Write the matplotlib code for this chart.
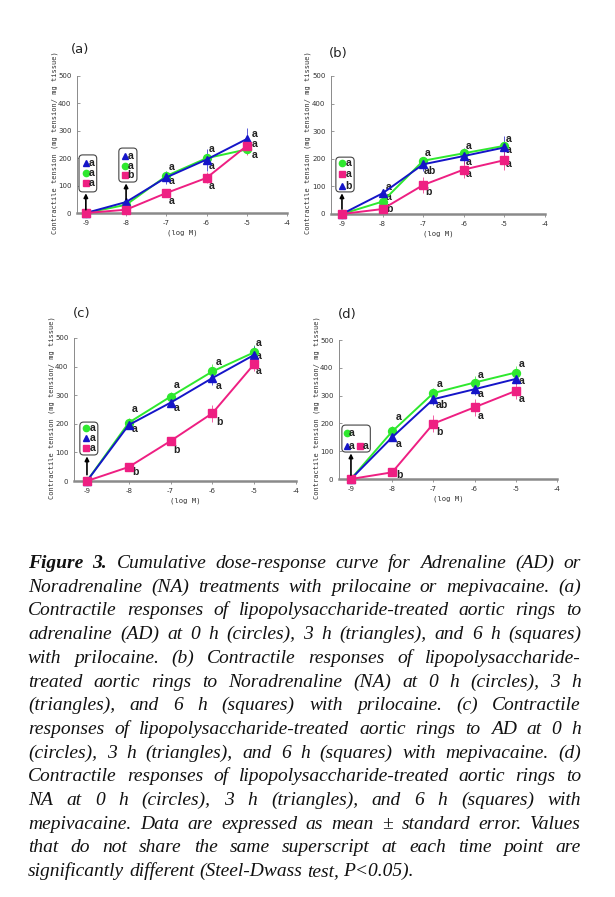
import matplotlib
matplotlib.use("Agg")
import matplotlib.pyplot as plt
from matplotlib.patches import FancyBboxPatch
import numpy as np

W, H = 615, 897
fig = plt.figure(figsize=(W / 100, H / 100), dpi=100)

# ---------------- data ----------------
log_conc = [-9, -8, -7, -6, -5]
x_ticks = [-9, -8, -7, -6, -5, -4]
y_ticks = [0, 100, 200, 300, 400, 500]

a_green = [0, 30, 135, 200, 232]
a_blue = [0, 40, 130, 195, 270]
a_pink = [0, 12, 73, 128, 245]
a_green_err = [0, 5, 15, 15, 15]
a_blue_err = [0, 8, 25, 40, 40]
a_pink_err = [0, 5, 10, 20, 35]

b_green = [0, 45, 193, 220, 247]
b_blue = [0, 75, 180, 210, 241]
b_pink = [0, 18, 105, 161, 195]
b_green_err = [0, 10, 15, 15, 15]
b_blue_err = [0, 15, 25, 30, 40]
b_pink_err = [0, 5, 30, 30, 35]

c_green = [0, 204, 295, 383, 450]
c_blue = [0, 196, 274, 360, 441]
c_pink = [0, 49, 140, 237, 409]
c_green_err = [0, 15, 15, 25, 25]
c_blue_err = [0, 15, 15, 25, 30]
c_pink_err = [0, 5, 15, 30, 25]

d_green = [0, 171, 309, 347, 383]
d_blue = [0, 150, 287, 323, 360]
d_pink = [0, 24, 199, 258, 317]
d_green_err = [0, 20, 20, 25, 25]
d_blue_err = [0, 15, 20, 20, 20]
d_pink_err = [0, 5, 30, 30, 30]

# superscript letters: (x, y, text)
a_letters = [(-6.86, 168, "a"), (-6.86, 117, "a"), (-6.86, 44, "a"),
             (-5.87, 233, "a"), (-5.87, 172, "a"), (-5.87, 99, "a"),
             (-4.80, 290, "a"), (-4.80, 252, "a"), (-4.80, 213, "a")]
b_letters = [(-7.84, 98, "a"), (-7.84, 62, "a"), (-7.84, 18, "b"),
             (-6.88, 221, "a"), (-6.83, 156, "ab"), (-6.88, 80, "b"),
             (-5.87, 246, "a"), (-5.87, 188, "a"), (-5.87, 145, "a"),
             (-4.89, 270, "a"), (-4.89, 233, "a"), (-4.89, 181, "a")]
c_letters = [(-7.85, 252, "a"), (-7.85, 182, "a"), (-7.85, 31, "b"),
             (-6.85, 336, "a"), (-6.85, 255, "a"), (-6.85, 108, "b"),
             (-5.84, 416, "a"), (-5.84, 332, "a"), (-5.84, 206, "b"),
             (-4.89, 483, "a"), (-4.89, 437, "a"), (-4.89, 385, "a")]
d_letters = [(-7.83, 223, "a"), (-7.83, 126, "a"), (-7.83, 14, "b"),
             (-6.84, 342, "a"), (-6.79, 266, "ab"), (-6.84, 169, "b"),
             (-5.84, 374, "a"), (-5.84, 306, "a"), (-5.84, 227, "a"),
             (-4.85, 414, "a"), (-4.85, 353, "a"), (-4.85, 288, "a")]

GREEN = "#2ee82e"
BLUE = "#1515c8"
PINK = "#ee1f82"
MK = {"g": ("o", GREEN), "b": ("^", BLUE), "p": ("s", PINK)}

# legend boxes: (x0, x1, y0, y1, rows[(marker_key, mx, lx, y, letter)], arrow(x, y0, y1))
a_boxes = [(-9.17, -8.73, 77, 212,
            [("b", -9.0, -8.85, 182, "a"), ("g", -9.0, -8.85, 146, "a"), ("p", -9.0, -8.85, 109, "a")],
            (-9.0, 12, 72)),
           (-8.18, -7.73, 113, 237,
            [("b", -8.03, -7.88, 208, "a"), ("g", -8.03, -7.88, 172, "a"), ("p", -8.03, -7.88, 139, "b")],
            (-8.0, 50, 108))]
b_boxes = [(-9.15, -8.70, 80, 206,
            [("g", -9.0, -8.83, 185, "a"), ("p", -9.0, -8.83, 145, "a"), ("b", -9.0, -8.83, 101, "b")],
            (-9.0, 18, 75))]
c_boxes = [(-9.17, -8.74, 91, 206,
            [("g", -9.02, -8.86, 185, "a"), ("b", -9.02, -8.86, 150, "a"), ("p", -9.02, -8.86, 115, "a")],
            (-9.0, 22, 86))]
d_boxes = [(-9.22, -8.53, 97, 194,
            [("g", -9.1, -8.97, 165, "a"), ("b", -9.1, -8.97, 119, "a"), ("p", -8.78, -8.64, 119, "a")],
            (-9.0, 14, 92))]

# axes pixel geometry: (left px, right px, y0 px, y500 px, xmin)
panels = [
    ("(a)", (77, 287, 213, 76, -9.22), (80, 50), 55,
     (a_green, a_blue, a_pink), (a_green_err, a_blue_err, a_pink_err), a_letters, a_boxes),
    ("(b)", (331, 545, 214, 76, -9.27), (338, 53), 308,
     (b_green, b_blue, b_pink), (b_green_err, b_blue_err, b_pink_err), b_letters, b_boxes),
    ("(c)", (74, 296, 481, 338, -9.31), (82, 313), 52,
     (c_green, c_blue, c_pink), (c_green_err, c_blue_err, c_pink_err), c_letters, c_boxes),
    ("(d)", (339, 557, 479, 340, -9.29), (347, 314), 317,
     (d_green, d_blue, d_pink), (d_green_err, d_blue_err, d_pink_err), d_letters, d_boxes),
]

letter_font = dict(family="Liberation Sans", fontsize=7.6, fontweight="bold",
                   color="#222222")

for label, (lpx, rpx, y0px, y5px, xmin), (lbx, lby), ylab_x, series, errs, letters, boxes in panels:
    ax = fig.add_axes([lpx / W, (H - y0px) / H, (rpx - lpx) / W, (y0px - y5px) / H])
    ax.set_xlim(xmin, -4)
    ax.set_ylim(0, 500)
    for s in ("top", "right"):
        ax.spines[s].set_visible(False)
    ax.spines["bottom"].set_color("#8a8a8a")
    ax.spines["bottom"].set_linewidth(1.8)
    ax.spines["left"].set_color("#8a8a8a")
    ax.spines["left"].set_linewidth(0.7)
    ax.set_xticks(x_ticks)
    ax.set_xticklabels([str(t) for t in x_ticks])
    ax.set_yticks(y_ticks)
    ax.set_yticklabels([str(t) for t in y_ticks])
    ax.tick_params(axis="x", direction="out", length=2, width=0.6, color="#888888",
                   labelsize=5, pad=3, labelcolor="#333333")
    ax.tick_params(axis="y", direction="in", length=2, width=0.6, color="#888888",
                   labelsize=5, pad=4, labelcolor="#333333")
    ax.patch.set_alpha(0)

    for (vals, err, key) in zip(series, errs, ("g", "b", "p")):
        m, c = MK[key]
        ax.errorbar(log_conc, vals, yerr=err, color=c, lw=1.4, marker=m, ms=5.7,
                    elinewidth=0.5, capsize=0, clip_on=False, zorder=3)

    for (x, y, t) in letters:
        ax.text(x, y, t, ha="center", va="center", **letter_font)

    for (x0, x1, by0, by1, rows, arrow) in boxes:
        aspect = (500 / (y0px - y5px)) / ((-4 - xmin) / (rpx - lpx))
        box = FancyBboxPatch((x0, by0), x1 - x0, by1 - by0,
                             boxstyle="round,pad=0,rounding_size=0.09",
                             mutation_aspect=aspect, fc="white", ec="#444444",
                             lw=0.8, clip_on=False, zorder=5)
        ax.add_patch(box)
        for (k, mx, lx, ry, lt) in rows:
            m, c = MK[k]
            ax.plot([mx], [ry], marker=m, color=c, ms=4.5, ls="none", clip_on=False, zorder=6)
            ax.text(lx, ry, lt, ha="center", va="center", zorder=6, **letter_font)
        axx, ay0, ay1 = arrow
        ax.annotate("", xy=(axx, ay1), xytext=(axx, ay0),
                    arrowprops=dict(arrowstyle="-|>", color="black", lw=1.2,
                                    mutation_scale=6, shrinkA=0, shrinkB=0),
                    zorder=7, annotation_clip=False)

    # y label and x label
    fig.text(ylab_x / W, 1 - ((y0px + y5px) / 2 - 2) / H,
             "Contractile tension (mg tension/ mg tissue)",
             rotation=90, ha="center", va="center", family="DejaVu Sans Mono",
             fontsize=5.0, color="#333333")
    fig.text(((lpx + rpx) / 2) / W, 1 - (y0px + 20) / H, "(log M)",
             ha="center", va="center", family="DejaVu Sans Mono", fontsize=5.2, color="#333333")
    fig.text(lbx / W, 1 - lby / H, label, ha="center", va="center",
             family="DejaVu Sans", fontsize=9.5, color="#222222")

# ---------------- caption (justified) ----------------
caption_lines = [
    "Figure 3. Cumulative dose-response curve for Adrenaline (AD) or",
    "Noradrenaline (NA) treatments with prilocaine or mepivacaine. (a)",
    "Contractile responses of lipopolysaccharide-treated aortic rings to",
    "adrenaline (AD) at 0 h (circles), 3 h (triangles), and 6 h (squares)",
    "with prilocaine. (b) Contractile responses of lipopolysaccharide-",
    "treated aortic rings to Noradrenaline (NA) at 0 h (circles), 3 h",
    "(triangles), and 6 h (squares) with prilocaine. (c) Contractile",
    "responses of lipopolysaccharide-treated aortic rings to AD at 0 h",
    "(circles), 3 h (triangles), and 6 h (squares) with mepivacaine. (d)",
    "Contractile responses of lipopolysaccharide-treated aortic rings to",
    "NA at 0 h (circles), 3 h (triangles), and 6 h (squares) with",
    "mepivacaine. Data are expressed as mean \u00b1 standard error. Values",
    "that do not share the same superscript at each time point are",
    "significantly different (Steel-Dwass test, P<0.05).",
]

renderer = fig.canvas.get_renderer()
left_px, right_px = 28, 581
base0, step = 568, 23.7
fs = 14.0
for i, line in enumerate(caption_lines):
    words = line.split(" ")
    ybase = 1 - (base0 + i * step) / H
    texts = []
    for j, wd in enumerate(words):
        bold = (i == 0 and j < 2)
        t = fig.text(0, ybase, wd, ha="left", va="baseline", family="Liberation Serif",
                     style="italic", fontweight="bold" if bold else "normal",
                     fontsize=fs, color="#111111")
        texts.append(t)
    widths = [t.get_window_extent(renderer).width for t in texts]
    if i == len(caption_lines) - 1:
        gap = fs * 100 / 72 * 0.25
    else:
        gap = (right_px - left_px - sum(widths)) / (len(words) - 1)
    x = left_px
    for t, wdt in zip(texts, widths):
        t.set_x(x / W)
        x += wdt + gap

fig.savefig("out.png", dpi=100)
